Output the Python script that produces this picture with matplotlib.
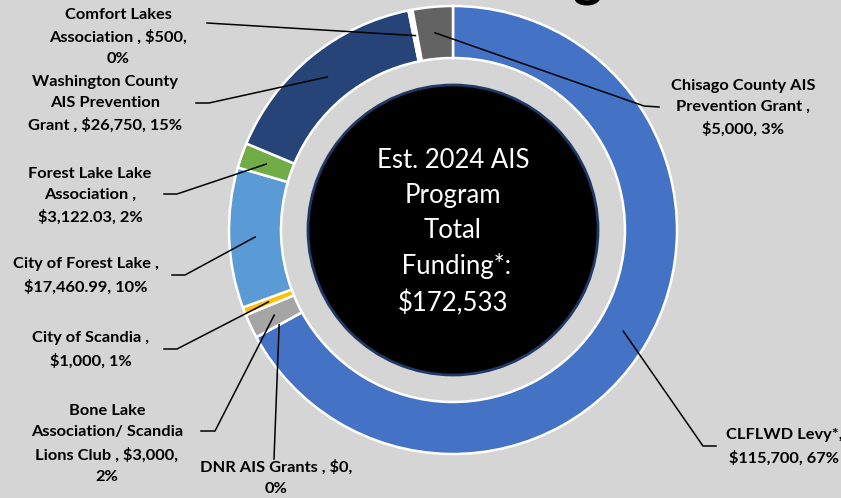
import numpy as np
import matplotlib.pyplot as plt
from matplotlib.patches import Circle

plt.rcParams['font.family'] = ['Lato', 'DejaVu Sans']

W, H = 841, 498  # canvas in pixels

# data (clockwise from 12 o'clock)
sources = ['CLFLWD Levy*', 'DNR AIS Grants', 'Bone Lake Association/ Scandia Lions Club',
           'City of Scandia', 'City of Forest Lake', 'Forest Lake Lake Association',
           'Washington County AIS Prevention Grant', 'Comfort Lakes Association',
           'Chisago County AIS Prevention Grant']
amounts = [115700, 0, 3000, 1000, 17460.99, 3122.03, 26750, 500, 5000]
labels = ['CLFLWD Levy*,\n$115,700, 67%',
          'DNR AIS Grants , $0,\n0%',
          'Bone Lake\nAssociation/ Scandia\nLions Club , $3,000,\n2%',
          'City of Scandia ,\n$1,000, 1%',
          'City of Forest Lake ,\n$17,460.99, 10%',
          'Forest Lake Lake\nAssociation ,\n$3,122.03, 2%',
          'Washington County\nAIS Prevention\nGrant , $26,750, 15%',
          'Comfort Lakes\nAssociation , $500,\n0%',
          'Chisago County AIS\nPrevention Grant ,\n$5,000, 3%']
colors = ['#4472C4', '#ED7D31', '#A5A5A5', '#FFC000', '#5B9BD5',
          '#70AD47', '#264478', '#FFFFFF', '#636363']
center_text = 'Est. 2024 AIS\nProgram\nTotal\n Funding*:\n$172,533'

# label layout in image pixels: text centre, elbow, tail end
text_xy = [(784, 447), (276, 478), (107, 444), (91, 350), (86, 276),
           (90, 196), (105, 104), (118, 37), (743, 108)]
elbow = [(703, 446), (274, 459), (215, 431), (177, 349), (185, 275),
         (177, 194), (209, 103), (207, 23), (644, 106)]
tail = [(716, 446), (274, 459), (201, 431), (164, 349), (172, 275),
        (164, 194), (196, 103), (207, 23), (659, 107)]

cx, cy = 453, H - 230
R, ring = 224, 52


def px(p):
    return p[0], H - p[1]


fig = plt.figure(figsize=(W / 100, H / 100), dpi=100)
fig.patch.set_facecolor('#D5D5D5')
ax = fig.add_axes([0, 0, 1, 1])
ax.set_facecolor('#D5D5D5')

ax.pie(amounts, colors=colors, startangle=90, counterclock=False,
       center=(cx, cy), radius=R,
       wedgeprops=dict(width=ring, edgecolor='white', linewidth=1.8))

ax.add_patch(Circle((cx, cy), 145, facecolor='black', edgecolor='#1F3864',
                    linewidth=2, zorder=3))
ax.text(cx, cy - 2, center_text, color='white', fontsize=18.5, ha='center',
        va='center', multialignment='center', linespacing=1.5, zorder=4)

# leader lines and labels
total = sum(amounts)
cum = 0
for i, v in enumerate(amounts):
    ang = np.deg2rad(90 - 360 * (cum + v / 2) / total)
    cum += v
    r_mid = R - ring / 2
    sx, sy = cx + r_mid * np.cos(ang), cy + r_mid * np.sin(ang)
    ex, ey = px(elbow[i])
    tx, ty = px(tail[i])
    ax.plot([sx, ex, tx], [sy, ey, ty], color='black', lw=1.1, zorder=5)
    lx, ly = px(text_xy[i])
    ax.text(lx, ly, labels[i], fontsize=11.8, fontweight='bold', ha='center',
            va='center', multialignment='center', linespacing=1.65, zorder=6)

# bottom of the cut-off title (only the descender shows)
ax.text(603, H + 5, 'Funding', fontsize=40, fontweight='bold', ha='right',
        va='baseline', color='black')

ax.set_xlim(0, W)
ax.set_ylim(0, H)
ax.set_aspect('equal')
ax.axis('off')

fig.savefig('out.png', dpi=100, facecolor=fig.get_facecolor())
